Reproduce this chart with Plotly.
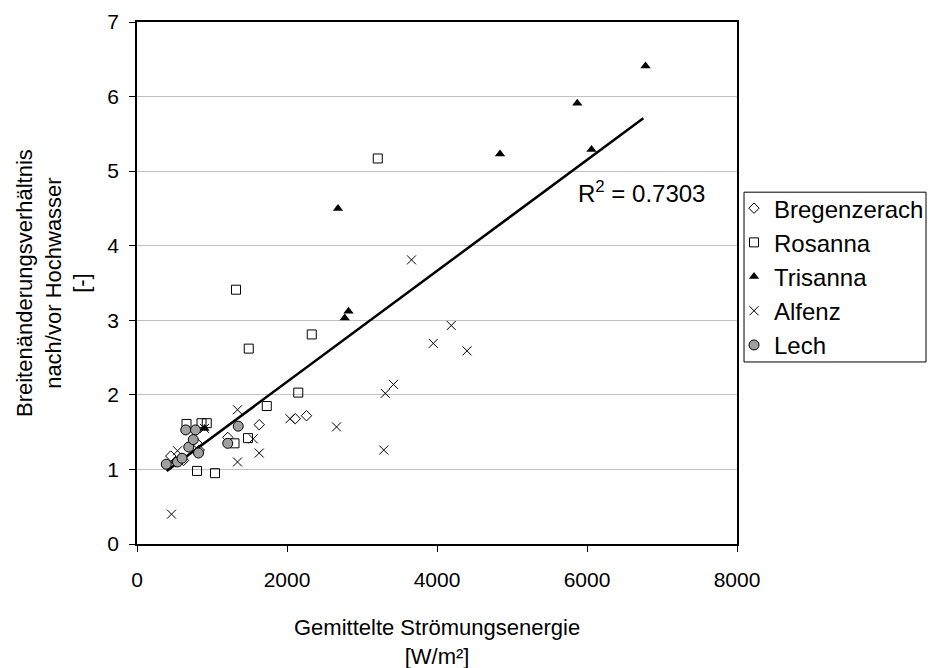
import plotly.graph_objects as go

# ---- data ----
brg_x = [450, 520, 620, 800, 830, 1210, 1630, 2110, 2260]
brg_y = [1.18, 1.10, 1.12, 1.35, 1.26, 1.43, 1.60, 1.68, 1.72]

ros_x = [660, 800, 860, 930, 1040, 1300, 1320, 1480, 1490, 1730, 2150, 2330, 3210]
ros_y = [1.61, 0.98, 1.62, 1.62, 0.95, 1.35, 3.41, 1.42, 2.62, 1.85, 2.03, 2.81, 5.17]

tri_x = [900, 2680, 2770, 2820, 4840, 5870, 6060, 6780]
tri_y = [1.55, 4.50, 3.03, 3.12, 5.23, 5.91, 5.29, 6.41]

alf_x = [460, 540, 900, 1340, 1340, 1550, 1630, 2040, 2660, 3290, 3310, 3420, 3660, 3950, 4190, 4400]
alf_y = [0.40, 1.25, 1.55, 1.80, 1.10, 1.41, 1.22, 1.68, 1.57, 1.26, 2.02, 2.14, 3.81, 2.69, 2.93, 2.59]

lech_x = [390, 540, 600, 650, 690, 750, 780, 820, 1210, 1350]
lech_y = [1.07, 1.10, 1.15, 1.53, 1.30, 1.40, 1.53, 1.22, 1.35, 1.58]

trend_x = [396, 6751]
trend_y = [0.98, 5.71]
r2_text = "R<sup>2</sup> = 0.7303"

x_ticks = [0, 2000, 4000, 6000, 8000]
y_ticks = [0, 1, 2, 3, 4, 5, 6, 7]

FONT = "Liberation Sans, Arial, sans-serif"

fig = go.Figure()

fig.add_trace(go.Scatter(
    x=trend_x, y=trend_y, mode="lines", showlegend=False,
    line=dict(color="black", width=2.5), hoverinfo="skip"))

fig.add_trace(go.Scatter(
    x=brg_x, y=brg_y, mode="markers", name="Bregenzerach",
    marker=dict(symbol="diamond-open", size=8, color="black", line=dict(width=1))))
fig.add_trace(go.Scatter(
    x=ros_x, y=ros_y, mode="markers", name="Rosanna",
    marker=dict(symbol="square-open", size=9, color="black", line=dict(width=1))))
fig.add_trace(go.Scatter(
    x=tri_x, y=tri_y, mode="markers", name="Trisanna",
    marker=dict(symbol="triangle-up", size=9, color="black", line=dict(width=0))))
fig.add_trace(go.Scatter(
    x=alf_x, y=alf_y, mode="markers", name="Alfenz",
    marker=dict(symbol="x-thin-open", size=9, color="black", line=dict(width=1, color="black"))))
fig.add_trace(go.Scatter(
    x=lech_x, y=lech_y, mode="markers", name="Lech",
    marker=dict(symbol="circle", size=10, color="#a0a0a0", line=dict(width=1, color="black"))))

fig.update_xaxes(
    range=[0, 8000], tickvals=x_ticks, ticks="outside", ticklen=6,
    tickcolor="black", showline=True, linecolor="black", linewidth=1.5,
    mirror=True, showgrid=False, zeroline=False,
    tickfont=dict(family=FONT, size=21, color="black"),
    ticklabelstandoff=10)
fig.update_yaxes(
    range=[0, 7], tickvals=y_ticks, ticks="outside", ticklen=6,
    tickcolor="black", showline=True, linecolor="black", linewidth=1.5,
    mirror=True, showgrid=True, gridcolor="#c0c0c0", gridwidth=1,
    zeroline=False,
    tickfont=dict(family=FONT, size=21, color="black"),
    ticklabelstandoff=6)

fig.update_layout(
    width=930, height=668,
    margin=dict(l=137, r=193, t=22, b=124, autoexpand=False),
    paper_bgcolor="white", plot_bgcolor="white",
    font=dict(family=FONT, size=20, color="black"),
    showlegend=True,
    legend=dict(
        x=0.995, y=0.6857, xanchor="left", yanchor="top",
        borderwidth=0, bgcolor="rgba(0,0,0,0)",
        font=dict(family=FONT, size=24, color="black"),
        itemwidth=30, tracegroupgap=0),
    shapes=[
        dict(type="rect", xref="paper", yref="paper",
             x0=1.0117, x1=1.315, y0=0.3487, y1=0.674,
             line=dict(color="black", width=1), fillcolor="rgba(0,0,0,0)",
             layer="above"),
    ],
    annotations=[
        dict(text=r2_text, x=0.732, y=0.674, xref="paper", yref="paper",
             xanchor="left", yanchor="middle", showarrow=False,
             font=dict(family=FONT, size=24, color="black")),
        dict(text="Breitenänderungsverhältnis<br>nach/vor Hochwasser<br>[-]",
             x=-0.14, y=0.5, xref="paper", yref="paper", textangle=-90,
             xanchor="center", yanchor="middle", showarrow=False,
             font=dict(family=FONT, size=22, color="black")),
        dict(text="Gemittelte Strömungsenergie<br>[W/m²]",
             x=0.5, y=-0.188, xref="paper", yref="paper",
             xanchor="center", yanchor="middle", showarrow=False,
             font=dict(family=FONT, size=22, color="black")),
    ],
)

fig.write_html(
    "out.html",
    config={"displayModeBar": False},
    post_script="document.body.style.margin='0';document.body.style.overflow='hidden';")
